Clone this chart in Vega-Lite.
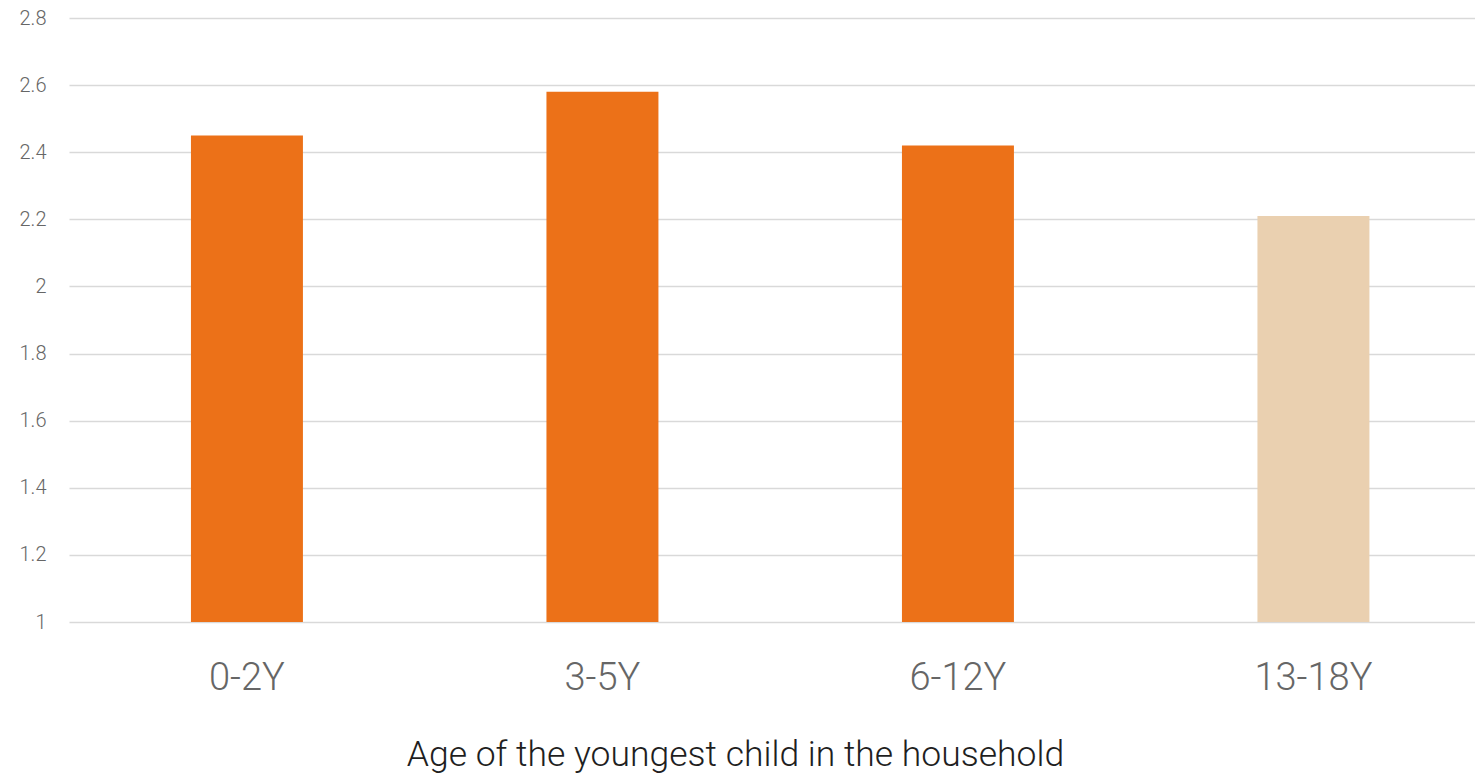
{
  "$schema": "https://vega.github.io/schema/vega-lite/v6.json",
  "autosize": "none",
  "width": 1406,
  "height": 604,
  "padding": {"left": 69, "top": 18, "right": 0, "bottom": 152},
  "background": "white",
  "config": {
    "view": {"stroke": null},
    "font": "Roboto"
  },
  "data": {
    "values": [
      {"age": "0-2Y", "value": 2.45},
      {"age": "3-5Y", "value": 2.58},
      {"age": "6-12Y", "value": 2.42},
      {"age": "13-18Y", "value": 2.21}
    ]
  },
  "mark": {"type": "bar", "clip": true},
  "encoding": {
    "x": {
      "field": "age",
      "type": "nominal",
      "sort": null,
      "scale": {"paddingInner": 0.685, "paddingOuter": 0.32, "align": 0.536},
      "axis": {
        "title": "Age of the youngest child in the household",
        "titleFont": "Roboto",
        "titleFontWeight": 300,
        "titleFontSize": 35.5,
        "titleColor": "#1f1f1f",
        "titlePadding": 40,
        "titleX": 666,
        "titleAlign": "center",
        "labelFont": "Roboto",
        "labelFontWeight": 300,
        "labelFontSize": 38,
        "labelColor": "#666666",
        "labelAngle": 0,
        "labelPadding": 37,
        "domain": false,
        "ticks": false,
        "grid": false
      }
    },
    "y": {
      "field": "value",
      "type": "quantitative",
      "scale": {"domain": [1, 2.8], "zero": false, "nice": false},
      "axis": {
        "title": null,
        "values": [1, 1.2, 1.4, 1.6, 1.8, 2, 2.2, 2.4, 2.6, 2.8],
        "format": "~g",
        "labelFont": "Roboto",
        "labelFontWeight": 300,
        "labelFontSize": 20,
        "labelColor": "#666666",
        "labelPadding": 23,
        "domain": false,
        "ticks": false,
        "grid": true,
        "gridColor": "#d9d9d9",
        "gridWidth": 1.5
      }
    },
    "color": {
      "field": "age",
      "type": "nominal",
      "scale": {
        "domain": ["0-2Y", "3-5Y", "6-12Y", "13-18Y"],
        "range": ["#EC7118", "#EC7118", "#EC7118", "#EAD0B0"]
      },
      "legend": null
    }
  }
}
